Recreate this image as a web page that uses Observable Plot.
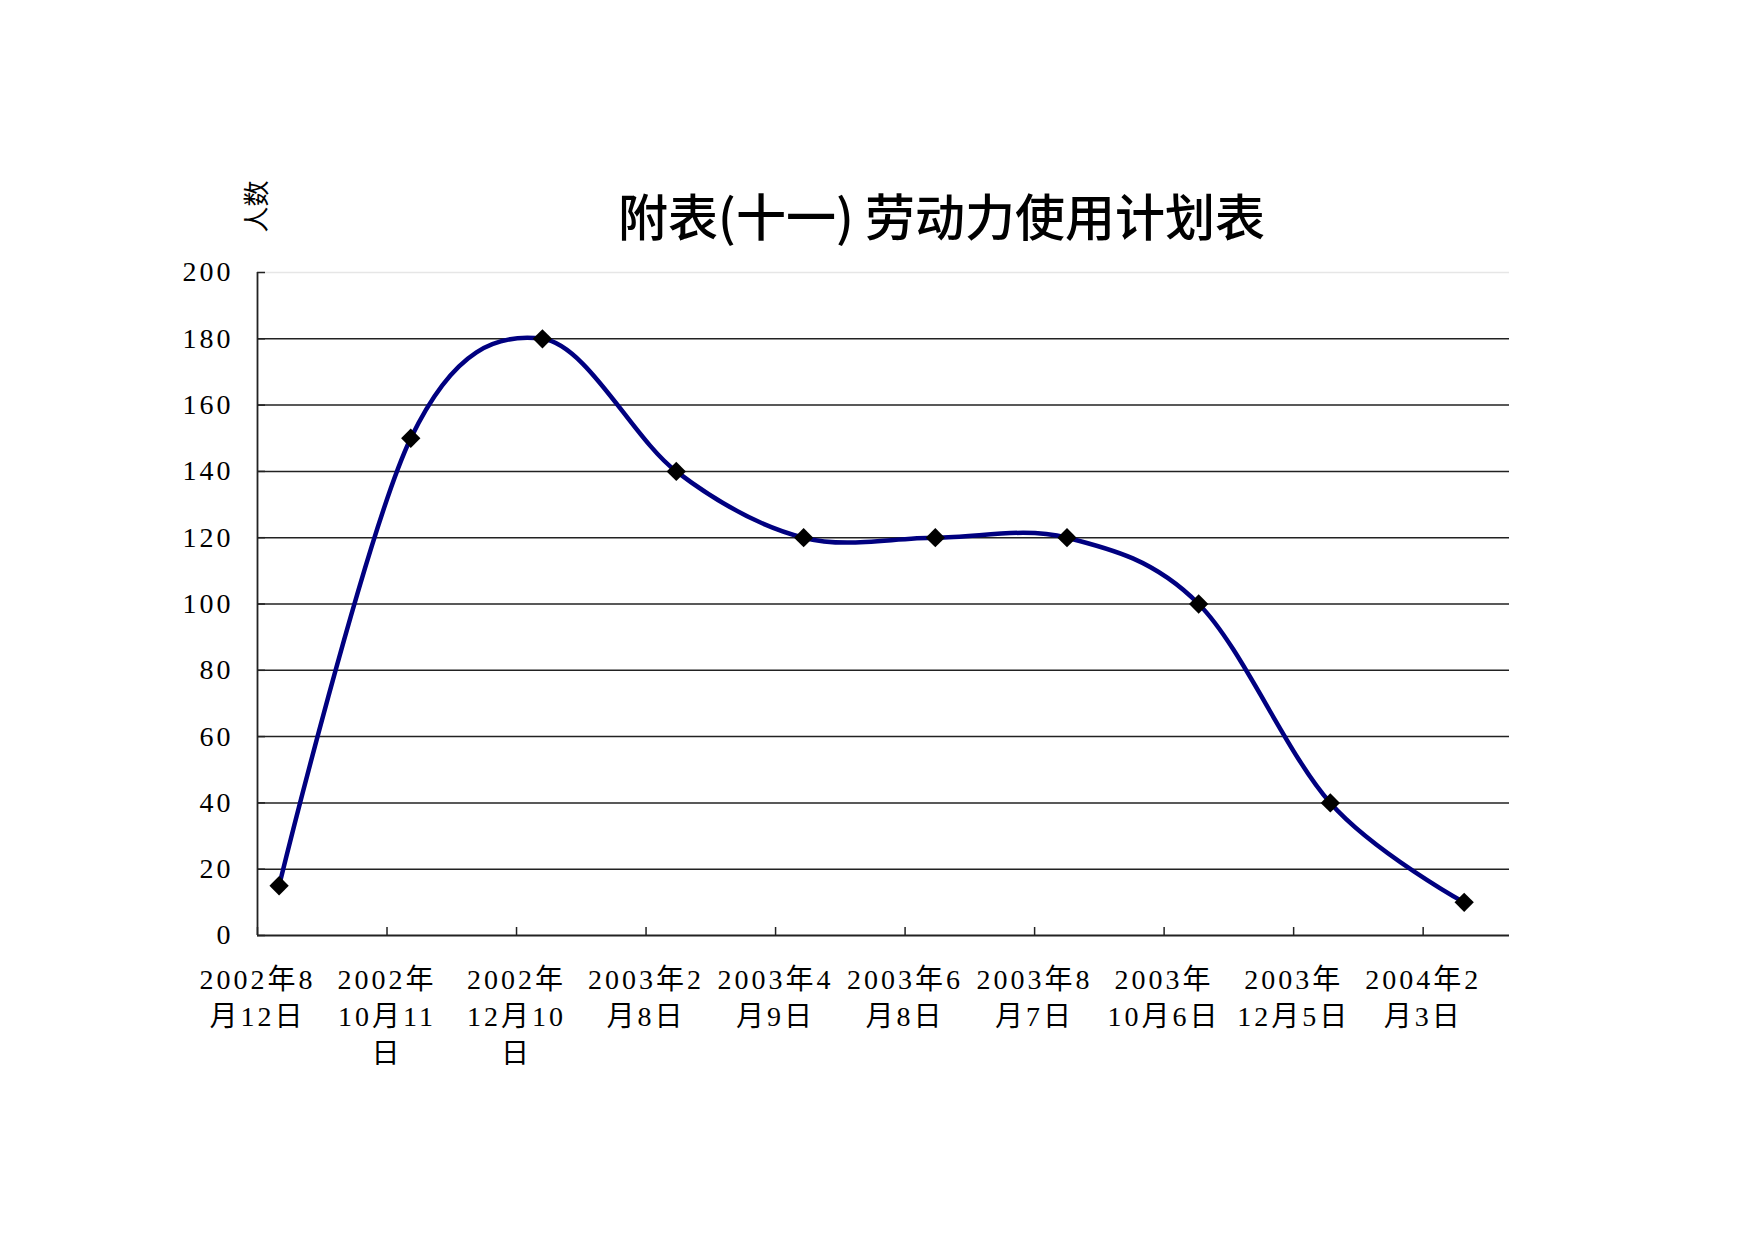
<!DOCTYPE html>
<html><head><meta charset="utf-8">
<script src="https://cdn.jsdelivr.net/npm/d3@7"></script>
<script src="https://cdn.jsdelivr.net/npm/@observablehq/plot@0.6"></script>
<style>
body{margin:0;background:#fff;}
</style>
</head><body><div id="chart"></div>
<script>
const chartTitle = "附表(十一) 劳动力使用计划表";
const yLabel = "人数";
const tickDates = ["2002-08-12","2002-10-11","2002-12-10","2003-02-08","2003-04-09","2003-06-08","2003-08-07","2003-10-06","2003-12-05","2004-02-03"];
const tickLabels = ["2002年8\n月12日","2002年\n10月11\n日","2002年\n12月10\n日","2003年2\n月8日","2003年4\n月9日","2003年6\n月8日","2003年8\n月7日","2003年\n10月6日","2003年\n12月5日","2004年2\n月3日"];
const pointDates = ["2002-08-22","2002-10-22","2002-12-22","2003-02-22","2003-04-22","2003-06-22","2003-08-22","2003-10-22","2003-12-22","2004-02-22"];
const workers = [15,150,180,140,120,120,120,100,40,10];
const yTicks = [0,20,40,60,80,100,120,140,160,180,200];
const xDomain = ["2002-08-12","2004-03-14"];

const W = 1754, H = 1241;
const M = {top: 272, right: 245, bottom: 306, left: 257};
const frameW = W - M.left - M.right, frameH = H - M.top - M.bottom;
const serif = "'Liberation Serif', 'Noto Sans CJK SC', serif";

const points = pointDates.map((d, i) => ({date: new Date(d), value: workers[i]}));
const ticks = tickDates.map((d, i) => ({date: new Date(d), label: tickLabels[i]}));

const chart = Plot.plot({
  width: W, height: H,
  marginTop: M.top, marginRight: M.right, marginBottom: M.bottom, marginLeft: M.left,
  style: {fontFamily: serif, fontSize: "28px", background: "#fff", color: "#000"},
  x: {type: "utc", domain: xDomain.map(d => new Date(d)), axis: null},
  y: {domain: [0, 200], axis: null},
  marks: [
    Plot.ruleY(yTicks.filter(v => v > 0 && v < 200), {stroke: "#222", strokeWidth: 1.5}),
    Plot.ruleY([200], {stroke: "#e6e6e6", strokeWidth: 1.3}),
    Plot.ruleY(yTicks, {insetRight: frameW - 8, stroke: "#222", strokeWidth: 1.5}),
    Plot.ruleX(ticks, {x: "date", insetTop: frameH - 8, stroke: "#222", strokeWidth: 1.5}),
    Plot.ruleY([0], {stroke: "#222", strokeWidth: 1.8}),
    Plot.ruleX([new Date(xDomain[0])], {stroke: "#222", strokeWidth: 1.8}),
    Plot.axisY({ticks: yTicks, tickSize: 0, tickPadding: 24, fontSize: 28, label: null, ariaDescription: "ytl"}),
    Plot.text(ticks, {x: "date", text: "label", frameAnchor: "bottom", dy: 27, lineAnchor: "top", lineHeight: 1.32, fontSize: 28, ariaDescription: "xtl"}),
    Plot.line(points, {x: "date", y: "value", curve: "cardinal", stroke: "#000080", strokeWidth: 4.5}),
    Plot.dot(points, {x: "date", y: "value", symbol: "diamond2", r: 8.7, fill: "#000", stroke: "none"}),
    Plot.text([chartTitle], {frameAnchor: "top", lineAnchor: "middle", dx: 58, dy: -53, fontSize: 50, fontFamily: "'Noto Sans CJK SC', sans-serif", fontWeight: 500}),
    Plot.text([yLabel], {frameAnchor: "top-left", lineAnchor: "middle", textAnchor: "middle", dy: -66, rotate: -90, fontSize: 26, fontFamily: serif})
  ]
});
document.getElementById("chart").appendChild(chart);
d3.select(chart).selectAll('g[aria-description="ytl"] text, g[aria-description="xtl"] text, g[aria-label="y-axis tick label"] text').style("letter-spacing", "3px");
</script>
</body></html>
